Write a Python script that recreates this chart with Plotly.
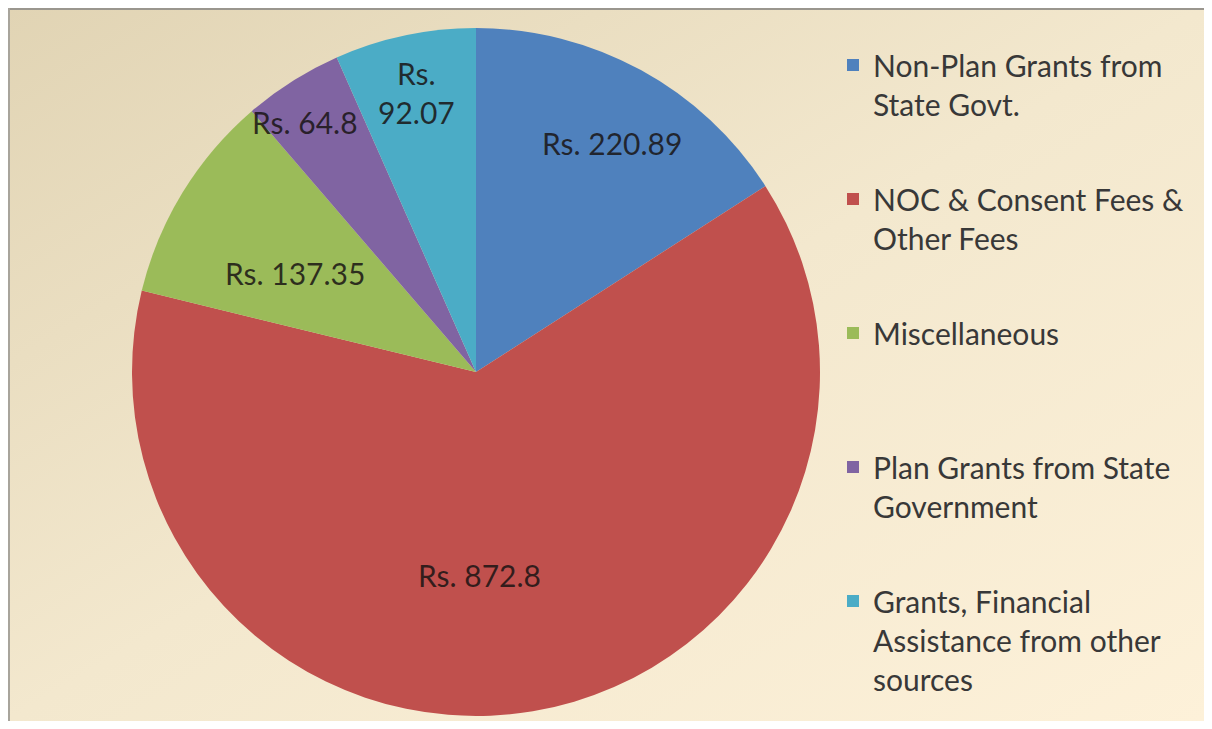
import math
import base64
import plotly.graph_objects as go

# ---- data ----
categories = [
    "Non-Plan Grants from<br>State Govt.",
    "NOC & Consent Fees &<br>Other Fees",
    "Miscellaneous",
    "Plan Grants from State<br>Government",
    "Grants, Financial<br>Assistance from other<br>sources",
]
values = [220.89, 872.8, 137.35, 64.8, 92.07]
value_labels = ["Rs. 220.89", "Rs. 872.8", "Rs. 137.35", "Rs. 64.8", "Rs.<br>92.07"]
colors = ["#4F81BD", "#C0504D", "#9BBB59", "#8064A2", "#4BACC6"]

# ---- layout constants ----
OFF = 8                                   # page body margin
W, H = 1212 - 2 * OFF, 729 - 2 * OFF      # figure size (no page overflow)
CX, CY, R = 476 - OFF, 372 - OFF, 344     # pie centre / radius (figure pixels)
FONT = "Lato, 'Open Sans', sans-serif"
FS = 30

# label placement (fraction of radius, angular nudge in degrees)
label_radius = [0.775, 0.59, 0.60, 0.88, 0.83]
label_nudge = [2.0, 8.5, -2.7, -2.0, 0.0]

# legend entries padded to the same number of lines so spacing is even
max_lines = 3
legend_names = []
for c in categories:
    n = c.count("<br>") + 1
    legend_names.append(c + "<br>&nbsp;" * (max_lines - n))

# background: diagonal beige gradient with grey frame lines at top/left
svg = f'''<svg xmlns="http://www.w3.org/2000/svg" width="{W}" height="{H}" viewBox="0 0 {W} {H}" preserveAspectRatio="none">
<defs><linearGradient id="g" x1="0" y1="0" x2="1" y2="1">
<stop offset="0" stop-color="#E1D4B4"/><stop offset="0.5" stop-color="#F3E8CE"/><stop offset="1" stop-color="#FDF1D9"/>
</linearGradient></defs>
<rect x="0" y="0" width="{W}" height="{H}" fill="url(#g)"/>
<rect x="0" y="0" width="{W}" height="2" fill="#9A968E"/>
<rect x="0" y="0" width="2" height="{H}" fill="#A8A49C"/>
</svg>'''
svg_uri = "data:image/svg+xml;base64," + base64.b64encode(svg.encode()).decode()

fig = go.Figure()
fig.add_trace(go.Pie(
    labels=[c.replace("<br>", " ") for c in categories],
    values=values,
    marker=dict(colors=colors, line=dict(width=0)),
    sort=False,
    direction="clockwise",
    rotation=0,
    textinfo="none",
    hoverinfo="none",
    showlegend=False,
    domain=dict(x=[(CX - R) / W, (CX + R) / W],
                y=[(H - CY - R) / H, (H - CY + R) / H]),
))

# legend entries (one per category, same colours as the slices)
for i, (name, col) in enumerate(zip(legend_names, colors)):
    fig.add_trace(go.Scatter(
        x=[None], y=[None], mode="markers", name=name,
        marker=dict(symbol="square", size=12, color=col),
        legendgroup=f"g{i}", showlegend=True, hoverinfo="skip",
    ))

# value labels positioned from the data's slice angles
total = sum(values)
cum = 0.0
annotations = []
for v, lab, f, nd in zip(values, value_labels, label_radius, label_nudge):
    mid = (cum + v / 2) / total * 360.0 + nd
    cum += v
    a = math.radians(mid)
    px = CX + f * R * math.sin(a)
    py = CY - f * R * math.cos(a)
    annotations.append(dict(
        x=px / W, y=1 - py / H, xref="paper", yref="paper",
        text=lab, showarrow=False, xanchor="center", yanchor="middle",
        font=dict(family=FONT, size=FS, color="rgba(25,20,20,0.85)"),
    ))

fig.update_layout(
    width=W, height=H,
    margin=dict(l=0, r=0, t=0, b=0),
    paper_bgcolor="rgba(0,0,0,0)",
    plot_bgcolor="rgba(0,0,0,0)",
    xaxis=dict(visible=False),
    yaxis=dict(visible=False),
    showlegend=True,
    legend=dict(
        x=825 / W, y=1 - 31 / H, xanchor="left", yanchor="top",
        valign="top",
        tracegroupgap=14,
        bgcolor="rgba(0,0,0,0)",
        font=dict(family=FONT, size=FS, color="#383838"),
        itemclick=False, itemdoubleclick=False,
    ),
    annotations=annotations,
    images=[dict(source=svg_uri, xref="paper", yref="paper", x=0, y=1,
                 sizex=1, sizey=1, xanchor="left", yanchor="top",
                 sizing="stretch", layer="below")],
)

fig.write_html("out.html")
